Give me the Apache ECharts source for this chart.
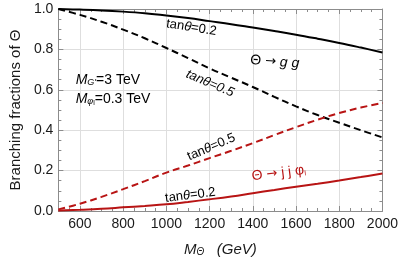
<!DOCTYPE html>
<html><head><meta charset="utf-8">
<script src="https://cdn.jsdelivr.net/npm/echarts@6/dist/echarts.min.js"></script>
<style>html,body{margin:0;padding:0;background:#fff}#c{width:401px;height:262px}</style>
</head><body><div id="c"></div>
<script>
// ---- data ----
const masses   = [500, 600, 700, 800, 900, 1000, 1100, 1200, 1300, 1400, 1500, 1600, 1700, 1800, 1900, 2000];
const ggTan02  = [1.000, 0.997, 0.993, 0.987, 0.979, 0.968, 0.955, 0.940, 0.925, 0.908, 0.891, 0.873, 0.853, 0.832, 0.809, 0.785];
const ggTan05  = [1.000, 0.971, 0.937, 0.898, 0.855, 0.807, 0.757, 0.706, 0.660, 0.614, 0.565, 0.518, 0.475, 0.437, 0.400, 0.364];
const jjTan05  = [0.008, 0.036, 0.070, 0.108, 0.148, 0.190, 0.225, 0.262, 0.298, 0.336, 0.376, 0.415, 0.452, 0.485, 0.512, 0.535];
const jjTan02  = [0.002, 0.006, 0.011, 0.018, 0.025, 0.033, 0.045, 0.058, 0.072, 0.088, 0.104, 0.120, 0.135, 0.151, 0.168, 0.186];
const xTickLabels = ['600', '800', '1000', '1200', '1400', '1600', '1800', '2000'];
const yTickLabels = ['0.0', '0.2', '0.4', '0.6', '0.8', '1.0'];

const FONT = "'Liberation Sans', Arial, sans-serif";
const RED = '#b81414';
const FRAME = '#8c8c8c';
const GRID = '#dedede';

function pairs(ys) { return masses.map((m, i) => [m, ys[i]]); }

const chart = echarts.init(document.getElementById('c'), null, {renderer: 'canvas'});

function xAxisCfg(pos, show) {
  return {
    type: 'value', position: pos, min: 500, max: 2000, splitNumber: 8,
    axisLine: {show: true, onZero: false, lineStyle: {color: FRAME, width: 1}},
    axisTick: {show: true, inside: true, length: 5, lineStyle: {color: FRAME}},
    minorTick: {show: true, splitNumber: 4, length: 3, lineStyle: {color: FRAME}},
    splitLine: {show: show, lineStyle: {color: GRID, width: 1}},
    axisLabel: {show: show, showMinLabel: false, margin: 6, color: '#1a1a1a', fontSize: 14, fontFamily: FONT,
      formatter: v => xTickLabels.includes(String(v)) ? String(v) : ''},
  };
}
function yAxisCfg(pos, show) {
  return {
    type: 'value', position: pos, min: 0, max: 1, interval: 0.2,
    axisLine: {show: true, onZero: false, lineStyle: {color: FRAME, width: 1}},
    axisTick: {show: true, inside: true, length: 5, lineStyle: {color: FRAME}},
    minorTick: {show: true, splitNumber: 4, length: 3, lineStyle: {color: FRAME}},
    splitLine: {show: show, lineStyle: {color: GRID, width: 1}},
    axisLabel: {show: show, margin: 5, color: '#1a1a1a', fontSize: 14, fontFamily: FONT,
      formatter: v => yTickLabels[Math.round(v / 0.2)]},
  };
}

const xa = xAxisCfg('bottom', true);
xa.name = '{m|M}{s|Θ}{g|   (GeV)}';
xa.nameLocation = 'middle';
xa.nameGap = 31;
xa.nameTextStyle = {fontFamily: FONT, color: '#1a1a1a', rich: {
  m: {fontSize: 15, fontStyle: 'italic', fontFamily: FONT, color: '#1a1a1a'},
  s: {fontSize: 10, fontStyle: 'italic', fontFamily: FONT, color: '#1a1a1a', verticalAlign: 'bottom', lineHeight: 10},
  g: {fontSize: 15, fontStyle: 'italic', fontFamily: FONT, color: '#1a1a1a'}
}};
const ya = yAxisCfg('left', true);
ya.name = 'Branching fractions of Θ';
ya.nameLocation = 'middle';
ya.nameGap = 31;
ya.nameRotate = 90;
ya.nameTextStyle = {fontFamily: FONT, fontSize: 15, color: '#1a1a1a'};

function lineSeries(name, ys, color, dashed) {
  return {
    name, type: 'line', data: pairs(ys), smooth: 0.4, showSymbol: false, symbol: 'none',
    xAxisIndex: 0, yAxisIndex: 0, silent: true, animation: false,
    lineStyle: {color, width: 2, type: dashed ? [7, 4] : 'solid'}, clip: true
  };
}

chart.setOption({
  animation: false,
  backgroundColor: '#fff',
  grid: {left: 52, right: 16.5, top: 9, bottom: 47, containLabel: false},
  xAxis: [xa, xAxisCfg('top', false)],
  yAxis: [ya, yAxisCfg('right', false)],
  series: [
    lineSeries('gg tan0.2', ggTan02, '#000', false),
    lineSeries('gg tan0.5', ggTan05, '#000', true),
    lineSeries('jj tan0.5', jjTan05, RED, true),
    lineSeries('jj tan0.2', jjTan02, RED, false),
  ]
});

// ---- annotations anchored in data coordinates ----
const base = {fontSize: 13, fontFamily: FONT};
const richStd = {
  n: {fontSize: 13, fontFamily: FONT},
  i: {fontSize: 13, fontFamily: FONT, fontStyle: 'italic'},
  m: {fontSize: 14, fontFamily: FONT, fontStyle: 'italic'},
  N: {fontSize: 14, fontFamily: FONT},
  a: {fontSize: 13, fontFamily: "'DejaVu Sans', sans-serif"},
  s: {fontSize: 9, fontFamily: FONT, fontStyle: 'italic', verticalAlign: 'bottom', lineHeight: 9},
  ss: {fontSize: 7, fontFamily: FONT, verticalAlign: 'bottom', lineHeight: 7},
};
const notes = [
  {t: '{n|tan}{i|θ}{n|=0.2}', at: [1116, 0.908], rot: -9, color: '#000'},
  {t: '{N|Θ }{a|→}{m| g g}', at: [1502, 0.738], rot: -4, color: '#000'},
  {t: '{i|tanθ=0.5}', at: [1202, 0.631], rot: -23, color: '#000'},
  {t: '{n|tan}{i|θ}{n|=0.5}', at: [1208, 0.316], rot: 23, color: '#000'},
  {t: '{n|tan}{i|θ}{n|=0.2}', at: [1111, 0.078], rot: 7, color: '#000'},
  {t: '{N|Θ }{a|→}{N| j j φ}{ss|l}', at: [1520, 0.187], rot: 7, color: RED},
];
const graphics = notes.map(n => {
  const p = chart.convertToPixel({gridIndex: 0}, n.at);
  return {type: 'text', x: p[0], y: p[1], rotation: n.rot * Math.PI / 180, silent: true, z: 100,
    style: {text: n.t, rich: richStd, fill: n.color, align: 'center', verticalAlign: 'middle', ...base}};
});
const leftNotes = [
  {t: '{m|M}{s|G\'}{N|=3 TeV}', at: [580, 0.65]},
  {t: '{m|M}{s|φ}{ss|l}{N|=0.3 TeV}', at: [580, 0.552]},
];
leftNotes.forEach(n => {
  const p = chart.convertToPixel({gridIndex: 0}, n.at);
  graphics.push({type: 'text', x: p[0], y: p[1], silent: true, z: 100,
    style: {text: n.t, rich: richStd, fill: '#000', align: 'left', verticalAlign: 'middle', ...base}});
});
chart.setOption({graphic: graphics});
</script>
</body></html>
